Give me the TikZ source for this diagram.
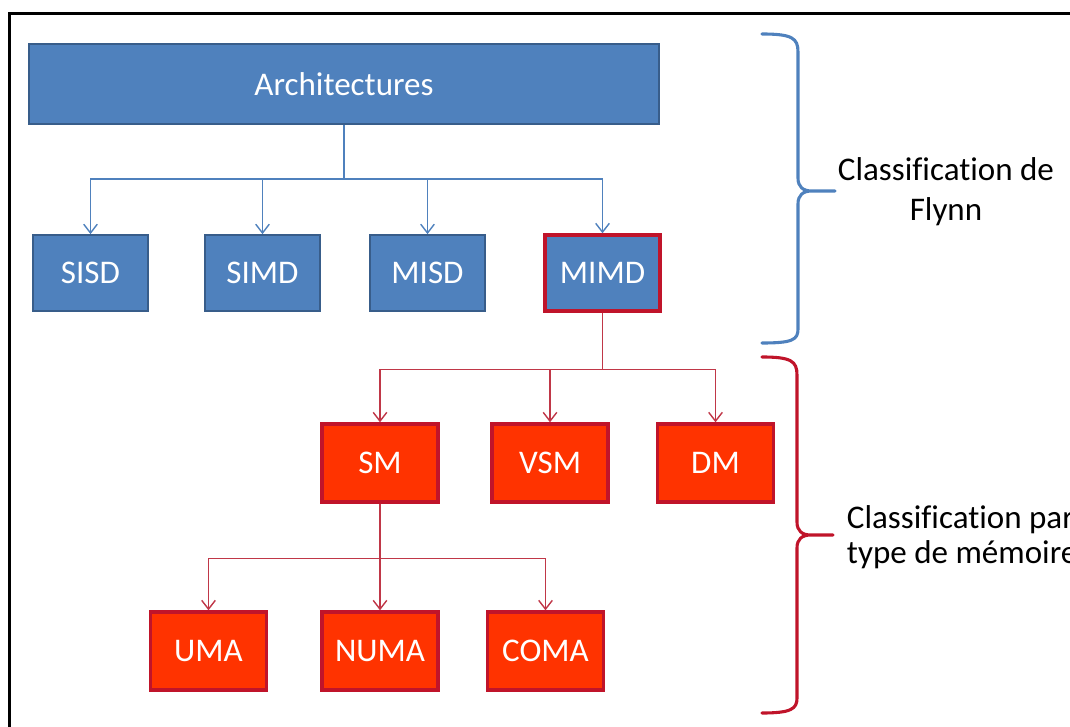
\documentclass[tikz,border=0pt]{standalone}
\usepackage{fontspec}
\setmainfont{Carlito}[Ligatures=CommonOff]
\usetikzlibrary{arrows.meta}
\definecolor{flynnblue}{RGB}{79,129,189}
\definecolor{flynnedge}{RGB}{56,93,138}
\definecolor{memred}{RGB}{255,51,0}
\definecolor{memedge}{RGB}{192,20,42}
\definecolor{memline}{RGB}{192,55,72}
\begin{document}
\begin{tikzpicture}[x=0.025cm,y=-0.025cm,
  bigfont/.style={font=\fontsize{23.5}{28.5}\selectfont},
  bluebox/.style={draw=flynnedge,line width=1.2pt,fill=flynnblue,text=white,bigfont,minimum width=2.875cm,minimum height=1.9cm},
  redbox/.style={draw=memedge,line width=2.4pt,fill=memred,text=white,bigfont,minimum width=2.9cm,minimum height=1.95cm},
  blueline/.style={draw=flynnblue,line width=1pt,-{Straight Barb[length=2.2mm,width=3.4mm]}},
  redline/.style={draw=memline,line width=1pt,-{Straight Barb[length=2.2mm,width=3.4mm]}},
  brace/.style={line width=2.2pt,line join=round,line cap=round}]
\useasboundingbox (0,0) rectangle (1070,727);
\draw[line width=2.1pt] (9.5,13.5) rectangle (1100,760);
\begin{scope}
\node[bluebox,minimum width=15.75cm,minimum height=2cm] (arch) at (344,84) {Architectures};
\node[bluebox] (sisd) at (90.5,273) {SISD};
\node[bluebox] (simd) at (262.5,273) {SIMD};
\node[bluebox] (misd) at (427.5,273) {MISD};
\node[bluebox,draw=memedge,line width=2.4pt] (mimd) at (602.5,273) {MIMD};
\path[blueline] (arch.south) -- ++(0,54) -| (sisd.north);
\path[blueline] (arch.south) -- ++(0,54) -| (simd.north);
\path[blueline] (arch.south) -- ++(0,54) -| (misd.north);
\path[blueline] (arch.south) -- ++(0,54) -| (mimd.north);
\draw[brace,flynnblue] (762,34) .. controls (792,34) and (798,38) .. (798,52) -- (798,178)
  .. controls (798,187) and (803,191) .. (812,191) -- (835,191) -- (812,191)
  .. controls (803,191) and (798,195) .. (798,204) -- (798,329)
  .. controls (798,340) and (792,343) .. (762,343);
\node[bigfont,align=center] (flynn) at (946,192) {Classification de\\Flynn};
\end{scope}
\begin{scope}
\node[redbox] (sm) at (380,463) {SM};
\node[redbox] (vsm) at (550,463) {VSM};
\node[redbox] (dm) at (715.5,463) {DM};
\node[redbox] (uma) at (208.5,651) {UMA};
\node[redbox] (numa) at (380,651) {NUMA};
\node[redbox] (coma) at (545.5,651) {COMA};
\path[redline] (mimd.south) -- ++(0,57) -| (sm.north);
\path[redline] (mimd.south) -- ++(0,57) -| (vsm.north);
\path[redline] (mimd.south) -- ++(0,57) -| (dm.north);
\path[redline] (sm.south) -- ++(0,55) -| (uma.north);
\path[redline] (sm.south) -- ++(0,55) -| (numa.north);
\path[redline] (sm.south) -- ++(0,55) -| (coma.north);
\draw[brace,memedge] (762,357) .. controls (791,357) and (797,361) .. (797,375) -- (797,522)
  .. controls (797,531) and (802,535) .. (811,535) -- (833,535) -- (811,535)
  .. controls (802,535) and (797,539) .. (797,548) -- (797,698)
  .. controls (797,709) and (791,713) .. (762,713);
\node[bigfont,align=left,anchor=west] (mem) at (842,537) {Classification par\\[-4pt]type de mémoire};
\end{scope}
\end{tikzpicture}
\end{document}
